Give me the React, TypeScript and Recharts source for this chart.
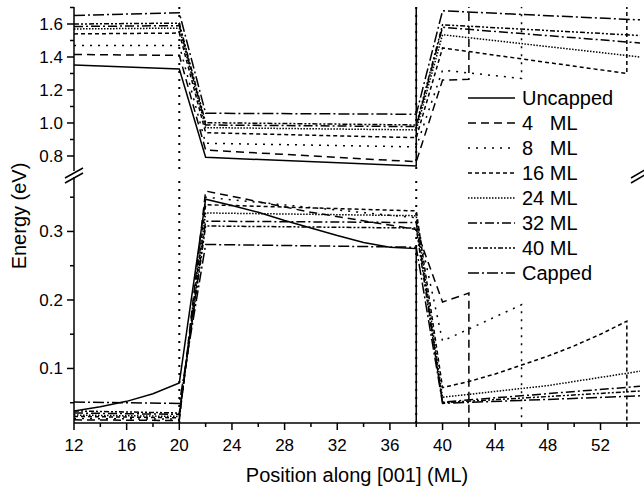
import React from "react";
import { LineChart, Line, XAxis, YAxis, ReferenceLine, Legend } from "recharts";

const FONT = '"Liberation Sans", Arial, Helvetica, sans-serif';

// series names, in legend order
const seriesNames = ["Uncapped", "4   ML", "8   ML", "16 ML", "24 ML", "32 ML", "40 ML", "Capped"];

// electron levels (upper part of the broken axis) [position ML, energy eV]
const cbUncapped = [[12, 1.352], [20, 1.327], [22, 0.792], [38, 0.739], [38, 3]];
const cb4 = [[12, 1.415], [20, 1.41], [22, 0.836], [38, 0.765], [40, 1.26], [42, 1.265], [42, 3]];
const cb8 = [[12, 1.47], [20, 1.47], [22, 0.877], [38, 0.855], [40, 1.32], [46, 1.27], [46, 3]];
const cb16 = [[12, 1.54], [20, 1.545], [22, 0.941], [38, 0.911], [40, 1.455], [54, 1.3], [54, 3]];
const cb24 = [[12, 1.57], [20, 1.575], [22, 0.972], [38, 0.958], [40, 1.535], [55, 1.4]];
const cb32 = [[12, 1.585], [20, 1.59], [22, 0.988], [38, 0.978], [40, 1.58], [55, 1.485]];
const cb40 = [[12, 1.6], [20, 1.605], [22, 1.002], [38, 0.988], [40, 1.595], [55, 1.53]];
const cbCapped = [[12, 1.652], [20, 1.668], [22, 1.059], [38, 1.053], [40, 1.68], [55, 1.625]];

// hole levels (lower part)
const vbUncapped = [
  [12, 0.038], [14, 0.044], [16, 0.052], [18, 0.063], [20, 0.079], [22, 0.347], [24, 0.338],
  [26, 0.328], [28, 0.316], [30, 0.305], [32, 0.294], [34, 0.284], [36, 0.277], [38, 0.275], [38, -1],
];
const vb4 = [[12, 0.025], [20, 0.024], [22, 0.359], [30, 0.328], [38, 0.303], [40, 0.197], [42, 0.21], [42, -1]];
const vb8 = [[12, 0.027], [20, 0.026], [22, 0.35], [38, 0.32], [40, 0.14], [46, 0.193], [46, -1]];
const vb16 = [
  [12, 0.03], [20, 0.028], [22, 0.339], [38, 0.33], [40, 0.072], [42, 0.081], [44, 0.092],
  [46, 0.105], [48, 0.118], [50, 0.133], [52, 0.15], [54, 0.169], [54, -1],
];
const vb24 = [[12, 0.032], [20, 0.03], [22, 0.327], [38, 0.323], [40, 0.058], [48, 0.075], [55, 0.096]];
const vb32 = [[12, 0.035], [20, 0.033], [22, 0.315], [38, 0.313], [40, 0.051], [55, 0.074]];
const vb40 = [[12, 0.038], [20, 0.035], [22, 0.308], [38, 0.305], [40, 0.05], [55, 0.067]];
const vbCapped = [[12, 0.051], [20, 0.049], [22, 0.281], [38, 0.277], [40, 0.049], [55, 0.06]];

const xTicks = [12, 14, 16, 18, 20, 22, 24, 26, 28, 30, 32, 34, 36, 38, 40, 42, 44, 46, 48, 50, 52, 54];
const xMajor = [12, 16, 20, 24, 28, 32, 36, 40, 44, 48, 52];
const upperTicks = [0.8, 0.9, 1.0, 1.1, 1.2, 1.3, 1.4, 1.5, 1.6, 1.7];
const upperMajor = [0.8, 1.0, 1.2, 1.4, 1.6];
const lowerTicks = [0.05, 0.1, 0.15, 0.2, 0.25, 0.3, 0.35];
const lowerMajor = [0.1, 0.2, 0.3];
const wellEdges = [20, 38];

const lineDash = ["", "8 5", "2 6", "4 3", "1.5 1.5", "9 3 2 3", "5 2 2 2 2 2", "11 3 2 3"];

const toPts = (arr: number[][]) => arr.map(([x, e]) => ({ x, e }));
const cbAll = [cbUncapped, cb4, cb8, cb16, cb24, cb32, cb40, cbCapped];
const vbAll = [vbUncapped, vb4, vb8, vb16, vb24, vb32, vb40, vbCapped];
const series = seriesNames.map((name, i) => ({
  name,
  cb: toPts(cbAll[i]),
  vb: toPts(vbAll[i]),
  dash: lineDash[i],
}));

const near = (list: number[], v: number) => list.some((m) => Math.abs(m - v) < 1e-6);

const leftTick = (majors: number[]) => (props: any) => {
  const { x, y, payload } = props;
  const big = near(majors, payload.value);
  return (
    <g>
      <line x1={x - (big ? 7 : 4)} y1={y} x2={x} y2={y} stroke="#000" strokeWidth={1.5} />
      {big && (
        <text x={x - 11} y={y + 6} textAnchor="end" fontSize={17} fill="#000">
          {payload.value.toFixed(1)}
        </text>
      )}
    </g>
  );
};

const rightTick = (props: any) => {
  const { x, y } = props;
  return <line x1={x} y1={y} x2={x + 4} y2={y} stroke="#000" strokeWidth={1.5} />;
};

const bottomTick = (props: any) => {
  const { x, y, payload } = props;
  const big = near(xMajor, payload.value);
  return (
    <g>
      <line x1={x} y1={y} x2={x} y2={y + (big ? 7 : 4)} stroke="#000" strokeWidth={1.5} />
      {big && (
        <text x={x} y={y + 27.5} textAnchor="middle" fontSize={17} fill="#000">
          {payload.value}
        </text>
      )}
    </g>
  );
};

// legend keeps the series order (Recharts sorts its payload by name)
const renderLegend = (props: any) => {
  const shown = new Set((props.payload || []).map((it: any) => it.value));
  return (
    <div style={{ fontFamily: FONT, fontSize: 20, color: "#000" }}>
      {series
        .filter((s) => shown.has(s.name))
        .map((s) => (
          <div key={s.name} style={{ display: "flex", alignItems: "center", height: 25 }}>
            <svg width={54} height={10} style={{ display: "block" }}>
              <line x1={0} y1={5} x2={47} y2={5} stroke="#000" strokeWidth={1.5} strokeDasharray={s.dash} />
            </svg>
            <span style={{ whiteSpace: "pre", lineHeight: "25px" }}>{s.name}</span>
          </div>
        ))}
    </div>
  );
};

const axisLine = { stroke: "#000", strokeWidth: 1.5 };

export default function App() {
  return (
    <div style={{ position: "absolute", left: 0, top: 0, width: 644, height: 491, fontFamily: FONT, background: "#fff" }}>
      <div style={{ position: "absolute", left: 0, top: 0 }}>
        <LineChart width={644} height={172} margin={{ top: 7, right: 4, bottom: 1, left: 0 }}>
          <XAxis type="number" dataKey="x" domain={[12, 55]} allowDataOverflow orientation="top" height={0} tick={false} tickLine={false} axisLine={axisLine} />
          <YAxis type="number" domain={[0.709, 1.703]} allowDataOverflow width={74} ticks={upperTicks} interval={0} tickSize={0} tickMargin={0} tickLine={false} tick={leftTick(upperMajor)} axisLine={axisLine} />
          <YAxis yAxisId="r" orientation="right" type="number" domain={[0.709, 1.703]} allowDataOverflow width={0} ticks={upperTicks} interval={0} tickSize={0} tickMargin={0} tickLine={false} tick={rightTick} axisLine={axisLine} />
          {wellEdges.map((w) => (
            <ReferenceLine key={w} x={w} stroke="#000" strokeWidth={2} strokeDasharray="2 6" />
          ))}
          {series.map((s) => (
            <Line key={s.name} name={s.name} data={s.cb} dataKey="e" type="linear" stroke="#000" strokeWidth={1.5} strokeDasharray={s.dash} dot={false} activeDot={false} isAnimationActive={false} />
          ))}
          <Legend content={renderLegend} layout="vertical" align="center" verticalAlign="middle" wrapperStyle={{ left: 468, top: 85.5, width: 170, height: 200 }} />
        </LineChart>
      </div>
      <div style={{ position: "absolute", left: 0, top: 172 }}>
        <LineChart width={644} height={319} margin={{ top: 5, right: 4, bottom: 0, left: 0 }}>
          <XAxis type="number" dataKey="x" domain={[12, 55]} allowDataOverflow height={68} ticks={xTicks} interval={0} tickSize={0} tickMargin={0} tickLine={false} tick={bottomTick} axisLine={axisLine}
            label={{ value: "Position along [001] (ML)", position: "insideBottom", offset: 9, fill: "#000", fontSize: 20 }} />
          <YAxis type="number" domain={[0.0204, 0.3795]} allowDataOverflow width={74} ticks={lowerTicks} interval={0} tickSize={0} tickMargin={0} tickLine={false} tick={leftTick(lowerMajor)} axisLine={axisLine} />
          <YAxis yAxisId="r" orientation="right" type="number" domain={[0.0204, 0.3795]} allowDataOverflow width={0} ticks={lowerTicks} interval={0} tickSize={0} tickMargin={0} tickLine={false} tick={rightTick} axisLine={axisLine} />
          {wellEdges.map((w) => (
            <ReferenceLine key={w} x={w} stroke="#000" strokeWidth={2} strokeDasharray="2 6" />
          ))}
          {series.map((s) => (
            <Line key={s.name} name={s.name} data={s.vb} dataKey="e" type="linear" stroke="#000" strokeWidth={1.5} strokeDasharray={s.dash} dot={false} activeDot={false} isAnimationActive={false} />
          ))}
        </LineChart>
      </div>
      <svg width={644} height={491} style={{ position: "absolute", left: 0, top: 0, pointerEvents: "none" }}>
        <g stroke="#000" strokeWidth={1.5}>
          <line x1={65} y1={178} x2={83} y2={168} />
          <line x1={65} y1={183} x2={83} y2={173} />
          <line x1={631} y1={178} x2={648} y2={168} />
          <line x1={631} y1={183} x2={648} y2={173} />
        </g>
        <text x={26} y={216} transform="rotate(-90, 26, 216)" textAnchor="middle" fontSize={20} fill="#000">
          Energy (eV)
        </text>
      </svg>
    </div>
  );
}
